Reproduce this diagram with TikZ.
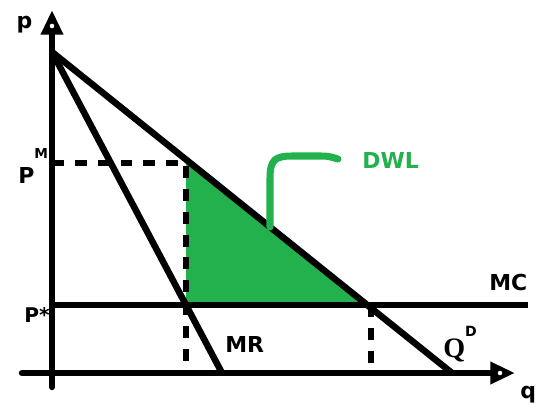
\documentclass[tikz,border=0pt]{standalone}
\usepackage{fontspec}
\setmainfont{DejaVu Sans}
\newfontfamily\timesfont{Liberation Serif}
\usetikzlibrary{arrows.meta}
\definecolor{dwlgreen}{RGB}{34,177,76}

\begin{document}
\begin{tikzpicture}[x=0.02cm, y=-0.02cm,
  curve/.style={line width=3.7pt},
  guide/.style={line width=3.7pt, dash pattern=on 6.8pt off 6.2pt},
  axis/.style={line width=3.7pt, line cap=round, -{Triangle[length=14pt, width=12pt]}},
  lbl/.style={font=\fontsize{12.5}{14}\selectfont\bfseries, inner sep=0pt}]
  \useasboundingbox (0,0) rectangle (536,406);

  % Points
  \coordinate (top)   at (52,52);
  \coordinate (pmy)   at (52,163);
  \coordinate (pm)    at (186,163);
  \coordinate (pmq)   at (186,373);
  \coordinate (mrmc)  at (186,305);
  \coordinate (dmc)   at (367,305);
  \coordinate (psy)   at (52,305);
  \coordinate (mcend) at (528,305);
  \coordinate (qsmc)  at (371,305);
  \coordinate (qsq)   at (371,373);
  \coordinate (dend)  at (452,373);
  \coordinate (mrend) at (222,373);

  % DWL triangle
  \fill[dwlgreen] (pm) -- (mrmc) -- (dmc) -- cycle;

  % Axes
  \draw[axis] (52,387) -- (52,10);
  \draw[axis] (22,373) -- (515,373);
  \fill[white] (52,26) circle[radius=1.3pt];
  \fill[white] (500,373) circle[radius=1.3pt];

  % Curves
  \draw[curve] (top) -- (dend);
  \draw[curve] (top) -- (mrend);
  \draw[curve] (psy) -- (mcend);

  % Dashed guides
  \draw[guide] (pmy) -- (pm) -- (pmq);
  \draw[guide] (qsmc) -- (qsq);

  % DWL pointer
  \draw[dwlgreen, line width=4pt, line cap=round]
    (270,227) -- (270,178) .. controls (270,160) and (275,156) .. (292,156)
    -- (318,156) .. controls (328,156) .. (338,159);

  % Labels
  \node[lbl, anchor=base] (plab) at (24.5,28) {p};
  \node[lbl, anchor=base west] (pmlab) at (18,183)
    {P\raisebox{14pt}{\fontsize{7.8}{8}\selectfont M}};
  \node[lbl, anchor=base west, font=\fontsize{11.5}{13}\selectfont\bfseries] (pslab) at (24,322) {P*};
  \node[lbl, anchor=base west] (mrlab) at (225,352) {MR};
  \node[lbl, anchor=base west] (mclab) at (489,290) {MC};
  \node[lbl, anchor=base west, text=dwlgreen] (dwllab) at (362,168) {DWL};
  \node[lbl, anchor=base west] (qdlab) at (443,357)
    {{\timesfont\fontsize{16}{18}\selectfont Q}\raisebox{11.5pt}{\fontsize{8}{9}\selectfont D}};
  \node[lbl, anchor=base west] (qlab) at (520,398) {q};
\end{tikzpicture}
\end{document}
